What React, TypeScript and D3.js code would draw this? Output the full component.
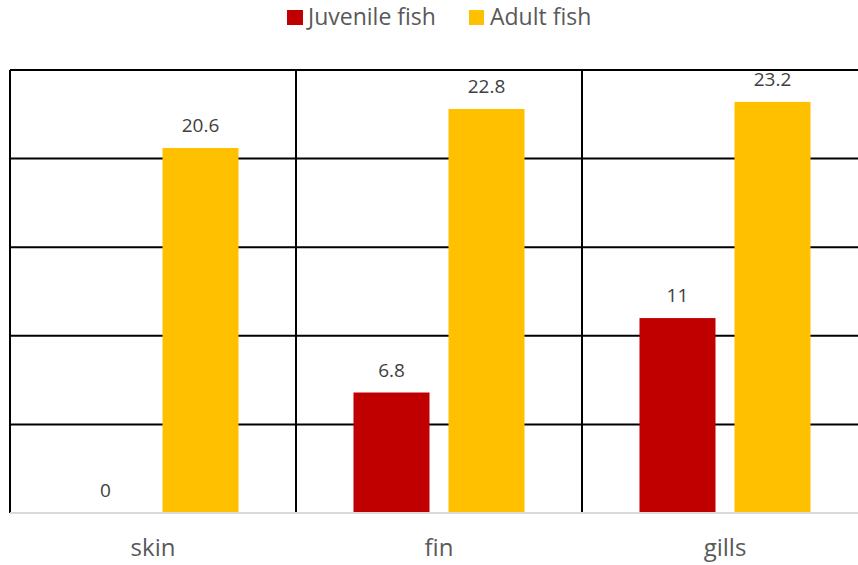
import React from "react";
import * as d3 from "d3";

const categories = ["skin", "fin", "gills"];
const seriesNames = ["Juvenile fish", "Adult fish"];
const juvenile = [0, 6.8, 11];
const adult = [20.6, 22.8, 23.2];
const yTicks = [0, 5, 10, 15, 20, 25];
const colors = ["#C00000", "#FFC000"];

export default function App() {
  const W = 858, H = 565;
  const left = 10, right = 868, top = 70, bottom = 513;
  const x0 = d3.scaleBand<string>().domain(categories).range([left, right]).padding(0);
  const x1 = d3.scaleBand<string>().domain(seriesNames).range([0, x0.bandwidth()]).paddingInner(0.2).paddingOuter(0.605);
  const y = d3.scaleLinear().domain([0, 25]).range([bottom, top]);
  const values = [juvenile, adult];
  const font = "'Open Sans', sans-serif";
  return (
    <svg width={W} height={H} style={{ position: "absolute", left: 0, top: 0 }} fontFamily={font}>
      <rect width={W} height={H} fill="#fff" />
      {yTicks.filter(t => t > 0).map(t => (
        <line key={t} x1={left} x2={W} y1={y(t)} y2={y(t)} stroke="#000" strokeWidth={2} />
      ))}
      {categories.map(c => (
        <line key={c} x1={x0(c)!} x2={x0(c)!} y1={y(25)} y2={bottom} stroke="#000" strokeWidth={2} />
      ))}
      {categories.map((c, i) =>
        seriesNames.map((s, j) => {
          const v = values[j][i];
          const bx = x0(c)! + x1(s)!;
          return (
            <g key={c + s}>
              <rect x={bx} y={y(v)} width={x1.bandwidth()} height={bottom - y(v)} fill={colors[j]} />
              <text x={bx + x1.bandwidth() / 2} y={y(v) - 16} textAnchor="middle" fontSize={19} fill="#404040">{v}</text>
            </g>
          );
        })
      )}
      <line x1={left} x2={W} y1={bottom} y2={bottom} stroke="#d9d9d9" strokeWidth={2} />
      {categories.map(c => (
        <text key={c} x={x0(c)! + x0.bandwidth() / 2} y={556} textAnchor="middle" fontSize={24} fill="#595959">{c}</text>
      ))}
      <g>
        <rect x={287} y={10} width={16} height={15} fill={colors[0]} />
        <text x={308} y={25} fontSize={23} fill="#595959">{seriesNames[0]}</text>
        <rect x={469} y={10} width={15} height={15} fill={colors[1]} />
        <text x={490} y={25} fontSize={23} fill="#595959">{seriesNames[1]}</text>
      </g>
    </svg>
  );
}
